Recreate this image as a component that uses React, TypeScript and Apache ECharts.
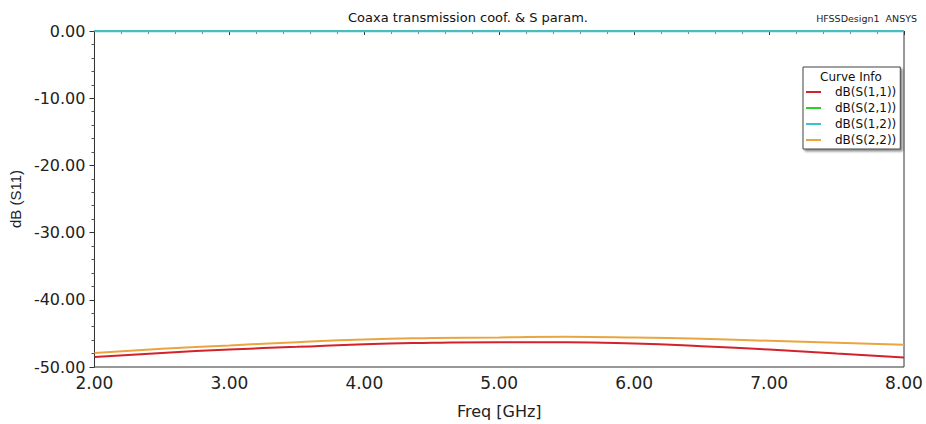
import React, { useEffect, useRef } from "react";
import * as echarts from "echarts";

const freqs = [2.0, 2.5, 3.0, 3.5, 4.0, 4.5, 5.0, 5.5, 6.0, 6.5, 7.0, 7.5, 8.0];
const s11 = [-48.5, -47.9, -47.4, -47.0, -46.6, -46.4, -46.3, -46.3, -46.5, -46.9, -47.4, -48.0, -48.6];
const s21 = [-0.03, -0.03, -0.03, -0.03, -0.03, -0.03, -0.03, -0.03, -0.03, -0.03, -0.03, -0.03, -0.03];
const s12 = [-0.03, -0.03, -0.03, -0.03, -0.03, -0.03, -0.03, -0.03, -0.03, -0.03, -0.03, -0.03, -0.03];
const s22 = [-47.9, -47.3, -46.8, -46.3, -45.9, -45.7, -45.6, -45.5, -45.6, -45.8, -46.1, -46.4, -46.7];
const seriesNames = ["dB(S(1,1))", "dB(S(2,1))", "dB(S(1,2))", "dB(S(2,2))"];
const seriesColors = ["#d3222c", "#2bd12b", "#3cc0d2", "#e9a640"];

const WIDE = "'DejaVu Sans', Verdana, sans-serif";
const ARIAL = "'Liberation Sans', Arial, sans-serif";

export default function App() {
  const ref = useRef<HTMLDivElement>(null);
  useEffect(() => {
    if (!ref.current) return;
    const chart = echarts.init(ref.current, undefined, { renderer: "svg" });
    const all = [s11, s21, s12, s22];
    chart.setOption({
      animation: false,
      backgroundColor: "#ffffff",
      textStyle: { fontFamily: WIDE },
      title: [
        {
          text: "Coaxa transmission coof. & S param.",
          left: 463,
          top: 6,
          textAlign: "center",
          textStyle: { fontSize: 13, fontWeight: "normal", color: "#111", fontFamily: WIDE },
        },
        {
          text: "HFSSDesign1  ANSYS",
          right: 4,
          top: 8,
          textStyle: { fontSize: 9.5, fontWeight: "normal", color: "#222", fontFamily: WIDE },
        },
      ],
      grid: {
        left: 92,
        right: 22,
        top: 31,
        bottom: 52,
        show: true,
        borderColor: "#333",
        borderWidth: 1,
      },
      legend: {
        orient: "vertical",
        left: 803,
        top: 67,
        padding: [19, 4, 3, 3],
        itemGap: 4,
        itemWidth: 15,
        itemHeight: 2,
        icon: "rect",
        backgroundColor: "#ffffff",
        borderColor: "#444",
        borderWidth: 1,
        shadowColor: "rgba(0,0,0,0.45)",
        shadowBlur: 2,
        shadowOffsetX: 2,
        shadowOffsetY: 2,
        textStyle: { fontSize: 12, color: "#111", fontFamily: WIDE, padding: [0, 0, 0, 9], lineHeight: 12 },
        data: seriesNames,
      },
      graphic: [
        {
          type: "text",
          left: 820,
          top: 71,
          z: 100,
          style: { text: "Curve Info", fontSize: 12, fill: "#111", fontFamily: WIDE },
        },
      ],
      xAxis: {
        type: "value",
        min: 2,
        max: 8,
        interval: 1,
        name: "Freq [GHz]",
        nameLocation: "middle",
        nameGap: 36,
        nameTextStyle: { fontSize: 16, color: "#222", fontFamily: WIDE },
        axisLine: { show: true, lineStyle: { color: "#333" } },
        axisTick: { show: true, inside: false, length: 4, lineStyle: { color: "#333" } },
        minorTick: { show: true, splitNumber: 5, length: 3, lineStyle: { color: "#888" } },
        axisLabel: {
          fontSize: 17,
          color: "#222",
          margin: 7,
          formatter: (v: number) => v.toFixed(2),
        },
        splitLine: { show: false },
      },
      yAxis: {
        type: "value",
        min: -50,
        max: 0,
        interval: 10,
        name: "dB (S11)",
        nameLocation: "middle",
        nameGap: 68,
        nameTextStyle: { fontSize: 15, color: "#222", fontFamily: ARIAL },
        axisLine: { show: true, lineStyle: { color: "#333" } },
        axisTick: { show: true, inside: false, length: 5, lineStyle: { color: "#333" } },
        minorTick: { show: true, splitNumber: 5, length: 3, lineStyle: { color: "#555" } },
        axisLabel: {
          fontSize: 16,
          color: "#222",
          margin: 9,
          formatter: (v: number) => v.toFixed(2),
        },
        splitLine: { show: false },
      },
      series: seriesNames.map((name, i) => ({
        name,
        type: "line",
        showSymbol: false,
        smooth: true,
        color: seriesColors[i],
        lineStyle: { width: i === 1 ? 1.5 : 2, color: seriesColors[i] },
        data: freqs.map((f, j) => [f, all[i][j]]),
        z: i === 2 ? 6 : 3,
      })),
    });
    return () => chart.dispose();
  }, []);
  return <div ref={ref} style={{ position: "absolute", left: 0, top: 0, width: 926, height: 424 }} />;
}
